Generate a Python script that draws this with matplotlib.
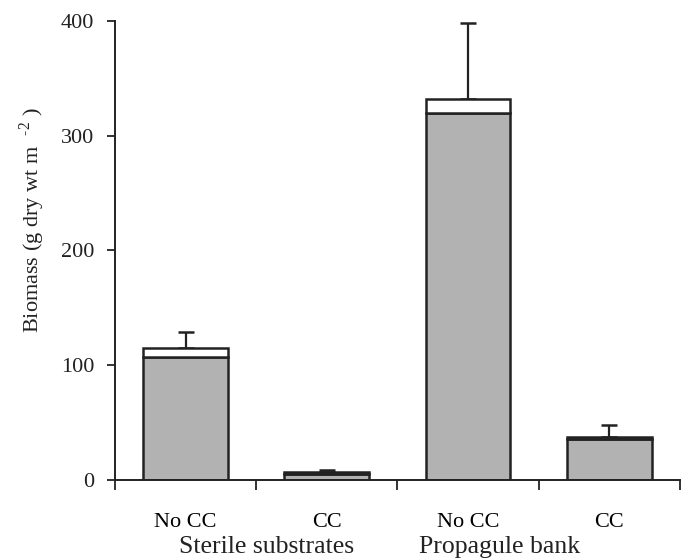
import matplotlib
matplotlib.use("Agg")
import matplotlib.pyplot as plt

# data
categories = ["No CC", "CC", "No CC", "CC"]
groups = ["Sterile substrates", "Propagule bank"]
lower_part = [107, 5, 320, 36]      # grey (textured) portion
totals = [115, 6.5, 332, 37]        # whole bar incl. white cap
errors_up = [14, 2.2, 66, 11]

plt.rcParams['font.family'] = ['Liberation Serif', 'DejaVu Serif']
plt.rcParams['mathtext.fontset'] = 'custom'
plt.rcParams['mathtext.rm'] = 'Liberation Serif'

fig = plt.figure(figsize=(6.84, 5.6), dpi=100)
ax = fig.add_axes([0.168, 0.143, 0.826, 0.8195])

x = [i + 0.5 for i in range(len(categories))]
white_part = [t - g for t, g in zip(totals, lower_part)]

ax.bar(x, lower_part, width=0.6, color="#b2b2b2", edgecolor="#222222", linewidth=1.8, zorder=2)
ax.bar(x, white_part, width=0.6, bottom=lower_part, color="white", edgecolor="#222222",
       linewidth=1.8, zorder=2)
ax.errorbar(x, totals, yerr=[[0] * 4, errors_up], fmt="none", ecolor="#222222",
            elinewidth=1.6, capsize=5.5, capthick=1.8, zorder=1)

ax.set_xlim(0, 4)
ax.set_ylim(0, 400)
ax.set_yticks([0, 100, 200, 300, 400])
ax.tick_params(axis="y", direction="out", length=6, width=1.3, labelsize=16, pad=9, colors="#222222")
ax.set_xticks([0, 1, 2, 3, 4])
ax.set_xticklabels([])
ax.tick_params(axis="x", direction="out", length=7, width=1.3, colors="#222222")
ax.set_xticks(x, minor=True)
ax.set_xticklabels(categories, minor=True, fontsize=16)
ax.tick_params(axis="x", which="minor", length=0, pad=24)

for side in ["top", "right"]:
    ax.spines[side].set_visible(False)
for side in ["left", "bottom"]:
    ax.spines[side].set_linewidth(1.4)
    ax.spines[side].set_color("#222222")

ax.set_ylabel(r"Biomass (g dry wt m  $^{\text{-2}}$ )", fontsize=16, color="#222222")
ax.yaxis.set_label_coords(-0.12, 0.565)

fig.text(267 / 684, 1 - 553 / 560, groups[0], ha="center", va="baseline", fontsize=18.5, color="#222222")
fig.text(500 / 684, 1 - 553 / 560, groups[1], ha="center", va="baseline", fontsize=18.5, color="#222222")

fig.savefig("out.png", dpi=100)
